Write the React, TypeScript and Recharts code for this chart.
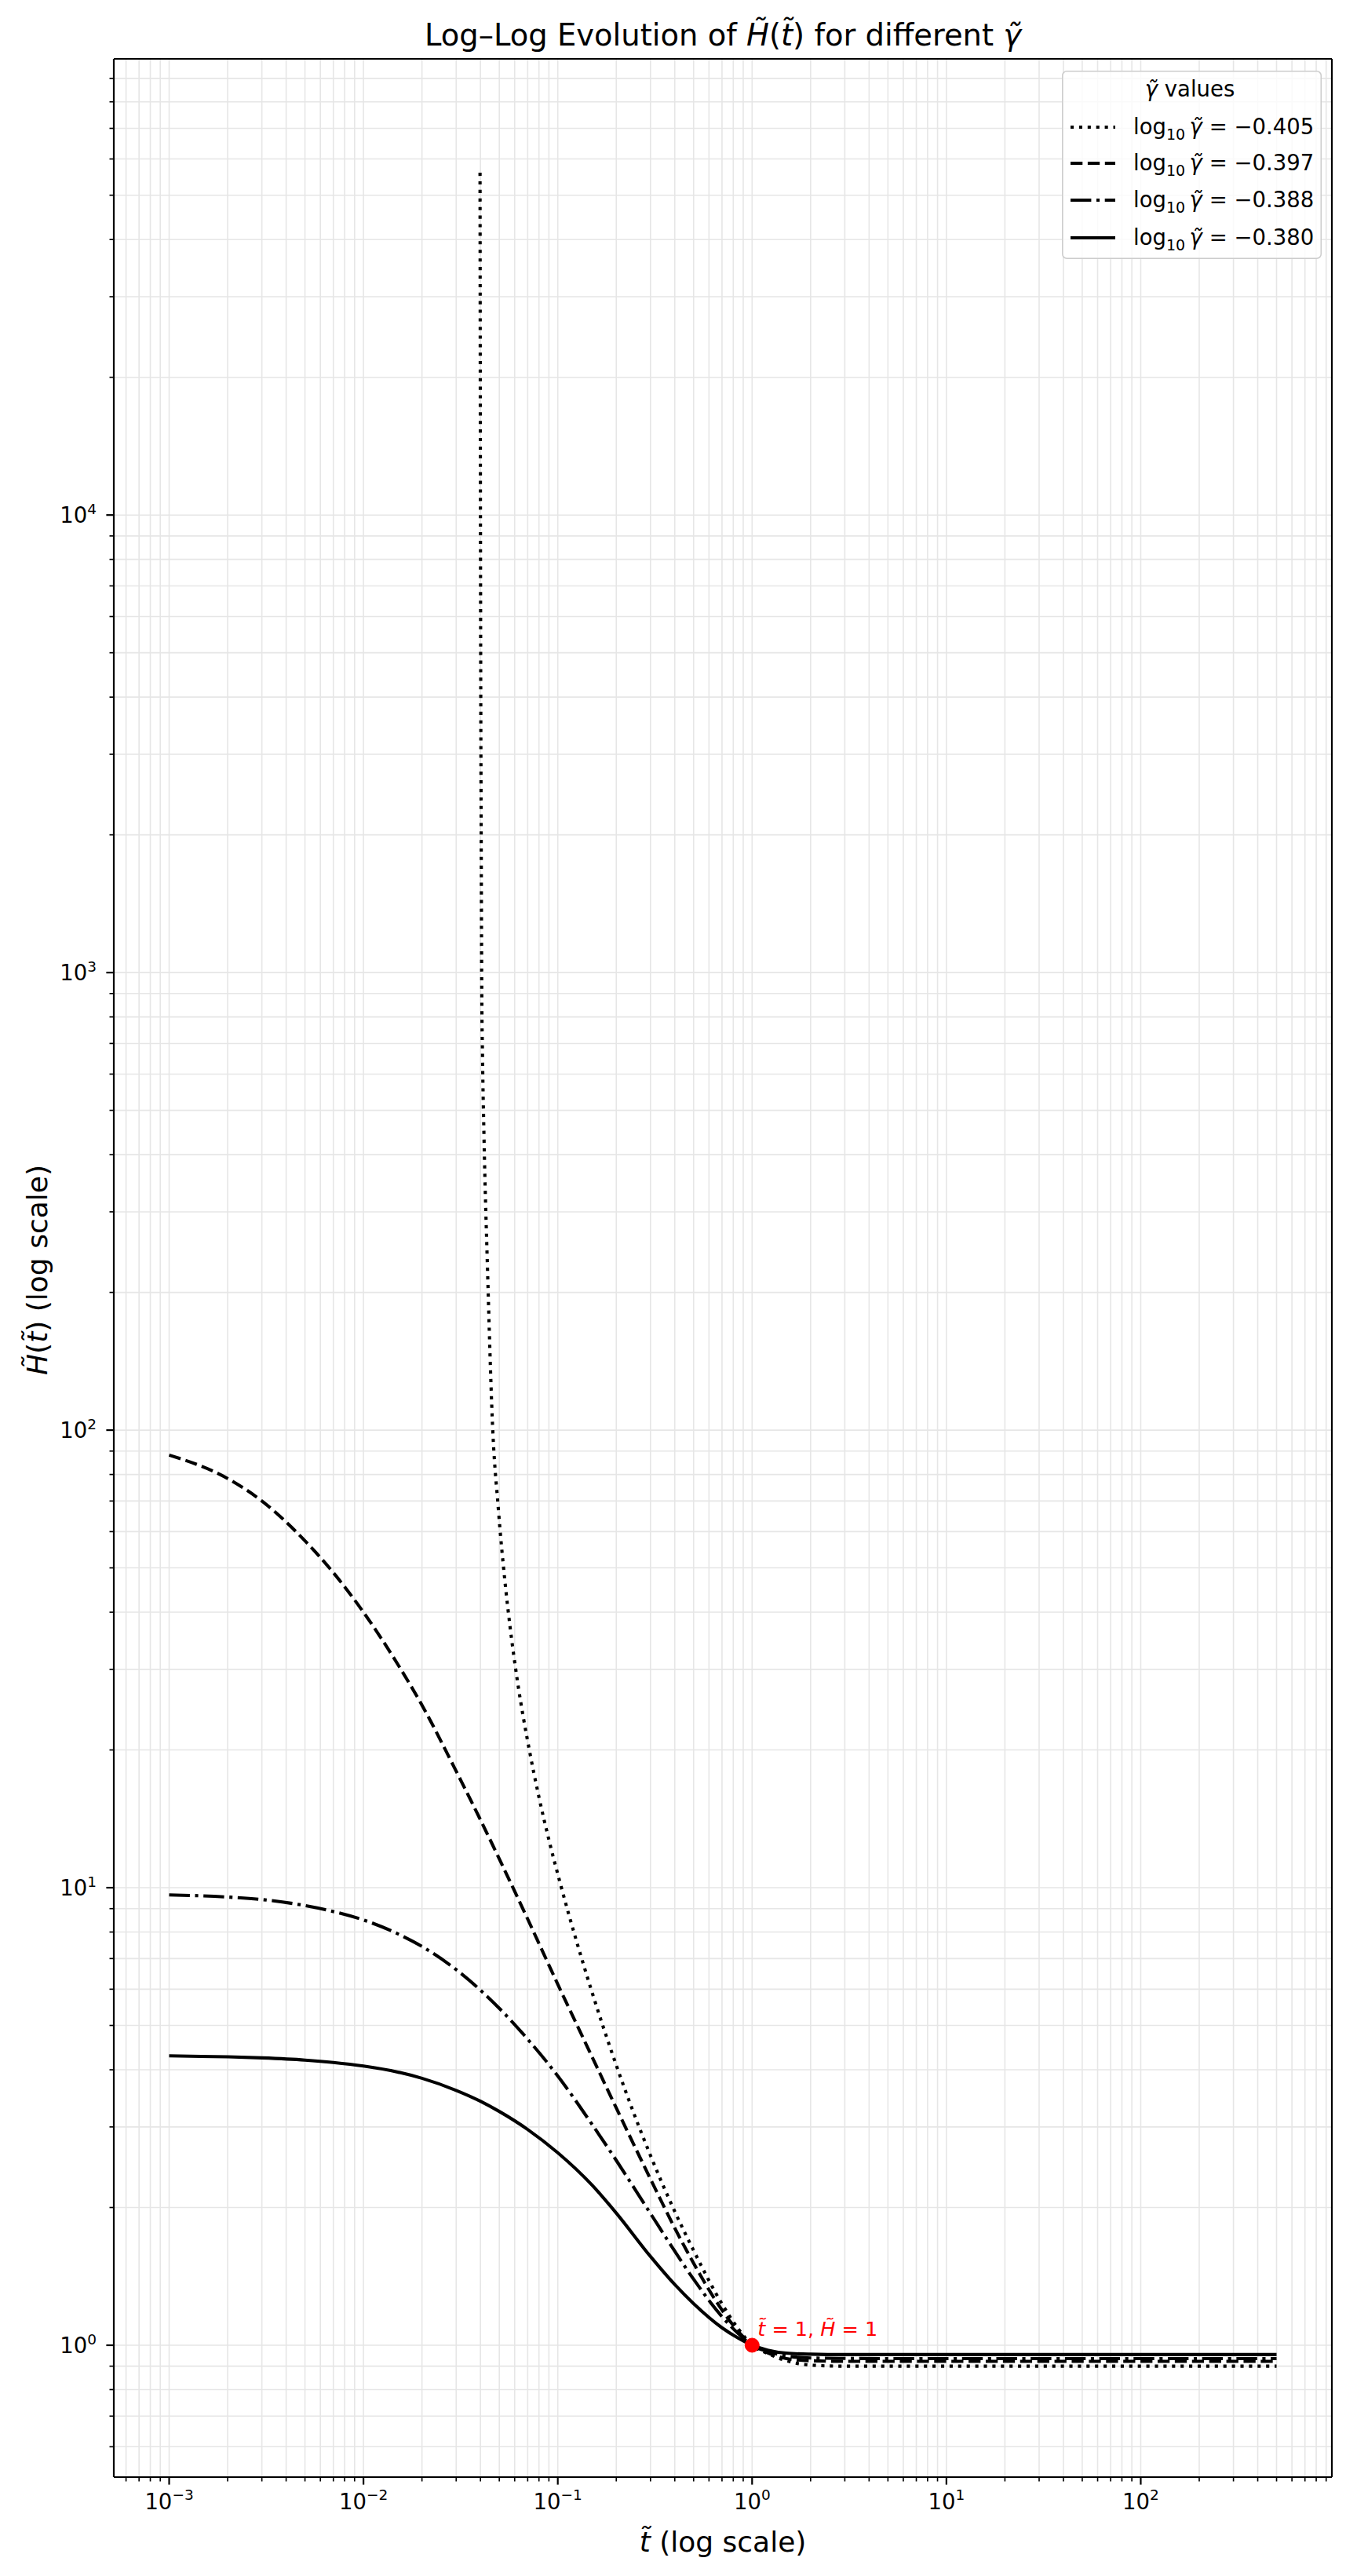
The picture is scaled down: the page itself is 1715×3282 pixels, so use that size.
import React from "react";
import {
  LineChart,
  Line,
  XAxis,
  YAxis,
  CartesianGrid,
  ReferenceDot,
  ReferenceLine,
  Legend,
} from "recharts";

const FONT = "DejaVu Sans";
const W = 1715;
const H = 3282;
// plot box in page pixels
const PLOT = { left: 145, right: 1697, top: 75, bottom: 3156 };

const X_MIN = 5.19e-4;
const X_MAX = 963;
const Y_MIN = 0.515;
const Y_MAX = 99300;

// shared time grid for the three bounded curves
const T = [
  0.001, 0.002, 0.003, 0.005, 0.007, 0.01, 0.015, 0.02, 0.03, 0.04, 0.05, 0.07, 0.1, 0.15, 0.2,
  0.3, 0.4, 0.5, 0.7, 0.85, 1, 1.2, 1.5, 2, 3, 5, 10, 30, 100, 500,
];
// log10 gamma = -0.380 (solid)
const H_380 = [
  4.29, 4.269, 4.246, 4.2, 4.15, 4.076, 3.955, 3.832, 3.606, 3.414, 3.243, 2.962, 2.634, 2.239,
  1.945, 1.563, 1.357, 1.233, 1.092, 1.036, 1.0, 0.976, 0.961, 0.956, 0.954, 0.954, 0.954, 0.954,
  0.954, 0.954,
];
// log10 gamma = -0.388 (dash-dot)
const H_388 = [
  9.64, 9.54, 9.42, 9.14, 8.87, 8.5, 7.93, 7.44, 6.62, 5.97, 5.45, 4.665, 3.876, 3.04, 2.535,
  1.94, 1.605, 1.394, 1.155, 1.06, 1.0, 0.97, 0.948, 0.938, 0.936, 0.935, 0.935, 0.935, 0.935,
  0.935,
];
// log10 gamma = -0.397 (dashed)
const H_397 = [
  88.2, 78.4, 70.0, 57.3, 48.8, 40.0, 30.8, 25.06, 17.97, 14.07, 11.56, 8.54, 6.15, 4.27, 3.3,
  2.308, 1.803, 1.511, 1.194, 1.071, 1.0, 0.963, 0.935, 0.925, 0.922, 0.922, 0.922, 0.922, 0.922,
  0.922,
];
// log10 gamma = -0.405 (dotted) starts at its blow-up near t ~ 0.04
const T_405 = [
  0.0398, 0.0401, 0.0404, 0.0406, 0.041, 0.0417, 0.0435, 0.046, 0.0494, 0.0533, 0.0568, 0.0623,
  0.0716, 0.0798, 0.0904, 0.104, 0.15, 0.2, 0.3, 0.4, 0.5, 0.7, 0.85, 1, 1.2, 1.5, 2, 3, 5, 10,
  30, 100, 500,
];
const H_405 = [
  56000, 5000, 1700, 950, 650, 440, 224, 106, 67.6, 47.3, 37.2, 27.9, 19.86, 15.85, 12.63, 10.06,
  5.913, 4.092, 2.598, 1.96, 1.611, 1.231, 1.085, 1.0, 0.96, 0.925, 0.905, 0.9, 0.9, 0.9, 0.9,
  0.9, 0.9,
];

const X_MAJOR = [1e-3, 1e-2, 1e-1, 1, 10, 100];
const X_MAJOR_LABELS = ["−3", "−2", "−1", "0", "1", "2"];
const Y_MAJOR = [1, 10, 100, 1000, 10000];
const Y_MAJOR_LABELS = ["0", "1", "2", "3", "4"];

const minorTicks = (lo: number, hi: number) => {
  const out: number[] = [];
  for (let e = -4; e <= 4; e++) {
    for (let m = 2; m <= 9; m++) {
      const v = m * Math.pow(10, e);
      if (v > lo && v < hi) out.push(v);
    }
  }
  return out;
};

const X_TICKS = [...X_MAJOR, ...minorTicks(X_MIN, X_MAX)].sort((a, b) => a - b);
const Y_TICKS = [...Y_MAJOR, ...minorTicks(Y_MIN, Y_MAX)].sort((a, b) => a - b);

const majorIndex = (v: number, majors: number[]) =>
  majors.findIndex((m) => Math.abs(Math.log10(v) - Math.log10(m)) < 1e-6);

const mainData = T.map((t, i) => ({ t, a: H_380[i], b: H_388[i], c: H_397[i] }));
const dotData = T_405.map((t, i) => ({ t, d: H_405[i] }));

const SERIES = [
  { key: "d", label: "−0.405", dash: "4.1 6.8", data: dotData },
  { key: "c", label: "−0.397", dash: "15.3 6.6", data: mainData },
  { key: "b", label: "−0.388", dash: "26.4 6.6 4.1 6.6", data: mainData },
  { key: "a", label: "−0.380", dash: undefined, data: mainData },
];

const XTick = (props: any) => {
  const { x, payload } = props;
  const idx = majorIndex(payload.value, X_MAJOR);
  const major = idx >= 0;
  return (
    <g>
      <line
        x1={x}
        x2={x}
        y1={PLOT.bottom}
        y2={PLOT.bottom + (major ? 9.6 : 5.5)}
        stroke="#000"
        strokeWidth={major ? 2.2 : 1.65}
      />
      {major && (
        <text x={x} y={3197} textAnchor="middle" fontSize={27.5} fontFamily={FONT} fill="#000">
          10
          <tspan dy={-12} fontSize={18.5}>
            {X_MAJOR_LABELS[idx]}
          </tspan>
        </text>
      )}
    </g>
  );
};

const YTick = (props: any) => {
  const { y, payload } = props;
  const idx = majorIndex(payload.value, Y_MAJOR);
  const major = idx >= 0;
  return (
    <g>
      <line
        x1={PLOT.left - (major ? 9.6 : 5.5)}
        x2={PLOT.left}
        y1={y}
        y2={y}
        stroke="#000"
        strokeWidth={major ? 2.2 : 1.65}
      />
      {major && (
        <text x={123} y={y + 10} textAnchor="end" fontSize={27.5} fontFamily={FONT} fill="#000">
          10
          <tspan dy={-11} fontSize={18.5}>
            {Y_MAJOR_LABELS[idx]}
          </tspan>
        </text>
      )}
    </g>
  );
};

const LegendBox = () => {
  const rows = [72, 118, 165, 213];
  return (
    <svg width={331} height={240} style={{ display: "block" }}>
      <rect
        x={0.75}
        y={0.75}
        width={329.5}
        height={238.5}
        rx={5.5}
        fill="#fff"
        fillOpacity={0.8}
        stroke="#cccccc"
        strokeWidth={1.5}
      />
      <text x={163} y={33} textAnchor="middle" fontSize={27.5} fontFamily={FONT} fill="#000">
        <tspan fontStyle="italic">γ̃</tspan> values
      </text>
      {SERIES.map((s, i) => (
        <g key={s.key}>
          <line
            x1={11}
            x2={68}
            y1={rows[i]}
            y2={rows[i]}
            stroke="#000"
            strokeWidth={4.1}
            strokeDasharray={s.dash}
          />
          <text x={91} y={rows[i] + 9} fontSize={27.5} fontFamily={FONT} fill="#000">
            log
            <tspan fontSize={19} dy={7}>
              10
            </tspan>
            <tspan dy={-7} fontStyle="italic">
              {"\u2009γ̃"}
            </tspan>
            {" = " + s.label}
          </text>
        </g>
      ))}
    </svg>
  );
};

const DotLabel = (props: any) => {
  const vb = props.viewBox;
  const cx = vb && vb.width !== undefined ? vb.x + vb.width / 2 : 957;
  const cy = vb && vb.height !== undefined ? vb.y + vb.height / 2 : 2988;
  return (
    <text x={cx + 7} y={cy - 12} fill="red" fontSize={25.5} fontFamily={FONT}>
      <tspan fontStyle="italic">t̃</tspan>
      {" = 1,  "}
      <tspan fontStyle="italic">H̃</tspan>
      {" = 1"}
    </text>
  );
};

export default function App() {
  return (
    <div
      style={{ position: "absolute", left: 0, top: 0, width: W, height: H, background: "#fff" }}
    >
      <LineChart
        width={W}
        height={H}
        data={mainData}
        margin={{ top: PLOT.top, right: W - PLOT.right, bottom: 0, left: 0 }}
      >
        <CartesianGrid stroke="#e6e6e6" strokeWidth={1.6} />
        <XAxis
          dataKey="t"
          type="number"
          scale="log"
          domain={[X_MIN, X_MAX]}
          allowDataOverflow
          ticks={X_TICKS}
          interval={0}
          height={H - PLOT.bottom}
          tickLine={false}
          tick={<XTick />}
          axisLine={{ stroke: "#000", strokeWidth: 2.2 }}
        />
        <YAxis
          type="number"
          scale="log"
          domain={[Y_MIN, Y_MAX]}
          allowDataOverflow
          ticks={Y_TICKS}
          interval={0}
          width={PLOT.left}
          tickLine={false}
          tick={<YTick />}
          axisLine={{ stroke: "#000", strokeWidth: 2.2 }}
        />
        <ReferenceLine y={Y_MAX} stroke="#000" strokeWidth={2.2} />
        <ReferenceLine x={X_MAX} stroke="#000" strokeWidth={2.2} />
        {SERIES.map((s) => (
          <Line
            key={s.key}
            data={s.data}
            dataKey={s.key}
            type="monotone"
            stroke="#000"
            strokeWidth={4.1}
            strokeDasharray={s.dash}
            strokeLinejoin="round"
            dot={false}
            activeDot={false}
            isAnimationActive={false}
            connectNulls
          />
        ))}
        <ReferenceDot
          x={1}
          y={1}
          r={9}
          fill="red"
          stroke="red"
          strokeWidth={1}
          label={<DotLabel />}
        />
        <Legend
          layout="horizontal"
          verticalAlign="middle"
          align="center"
          content={() => <LegendBox />}
          wrapperStyle={{ position: "absolute", left: 1353, top: 90, width: 331, height: 240 }}
        />
      </LineChart>
      <svg
        width={W}
        height={H}
        style={{ position: "absolute", left: 0, top: 0, pointerEvents: "none" }}
      >
        <text x={921} y={58} textAnchor="middle" fontSize={38.5} fontFamily={FONT} fill="#000">
          {"Log–Log Evolution of "}
          <tspan fontStyle="italic">H̃</tspan>(<tspan fontStyle="italic">t̃</tspan>)
          {" for different "}
          <tspan fontStyle="italic">γ̃</tspan>
        </text>
        <text x={921} y={3251} textAnchor="middle" fontSize={36} fontFamily={FONT} fill="#000">
          <tspan fontStyle="italic">t̃</tspan>
          {" (log scale)"}
        </text>
        <text
          transform="translate(60,1618) rotate(-90)"
          textAnchor="middle"
          fontSize={36}
          fontFamily={FONT}
          fill="#000"
        >
          <tspan fontStyle="italic">H̃</tspan>(<tspan fontStyle="italic">t̃</tspan>)
          {" (log scale)"}
        </text>
      </svg>
    </div>
  );
}
